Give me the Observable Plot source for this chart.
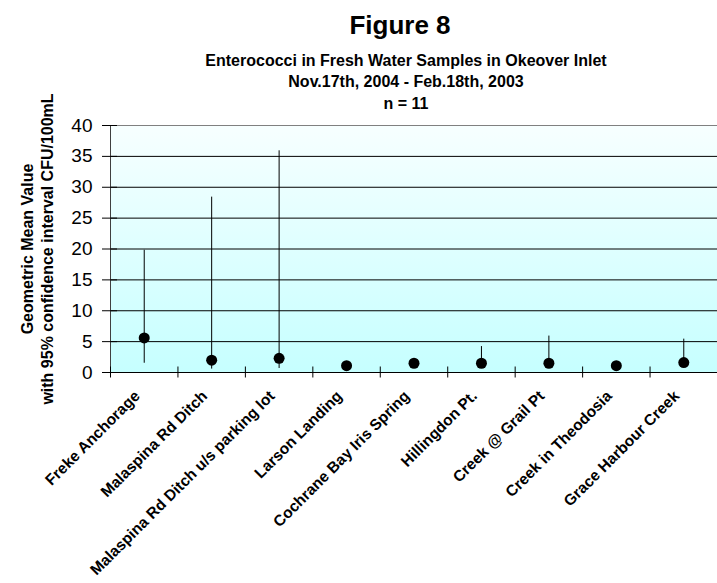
<!DOCTYPE html>
<html>
<head>
<meta charset="utf-8">
<script src="https://cdn.jsdelivr.net/npm/d3@7"></script>
<script src="https://cdn.jsdelivr.net/npm/@observablehq/plot@0.6"></script>
<style>
  body { margin: 0; background: #fff; font-family: Arial, "Liberation Sans", sans-serif; }
  #chart { position: relative; width: 717px; height: 583px; }
  #chart svg { position: absolute; left: 0; top: 0; }
  .t { position: absolute; left: 0; text-align: center; font-weight: bold;
       color: #000; white-space: nowrap; line-height: 1; }
  .h1 { font-size: 26px; top: 12px; width: 800px; }
  .h2 { font-size: 16px; width: 812px; }
</style>
</head>
<body>
<div id="chart">
  <div class="t h1">Figure 8</div>
  <div class="t h2" style="top:53px">Enterococci in Fresh Water Samples in Okeover Inlet</div>
  <div class="t h2" style="top:74px">Nov.17th, 2004 - Feb.18th, 2003</div>
  <div class="t h2" style="top:96px">n = 11</div>
</div>
<script>
// Sampling sites along the x axis
const sites = [
  "Freke Anchorage",
  "Malaspina Rd Ditch",
  "Malaspina Rd Ditch u/s parking lot",
  "Larson Landing",
  "Cochrane Bay Iris Spring",
  "Hillingdon Pt.",
  "Creek @ Grail Pt",
  "Creek in Theodosia",
  "Grace Harbour Creek"
];
// Geometric mean (CFU/100mL) and 95% confidence interval bounds
const geoMean = [5.6, 2.0, 2.3, 1.1, 1.5, 1.5, 1.5, 1.1, 1.6];
const ciLow   = [1.5, 0.55, 0.65, 0.7, 0.9, 0.9, 0.9, 0.7, 1.0];
const ciHigh  = [19.8, 28.4, 35.9, 1.6, 2.2, 4.2, 5.9, 1.6, 5.4];
// Value axis ticks
const yTicks = [0, 5, 10, 15, 20, 25, 30, 35, 40];

const rows = sites.map((site, i) => ({i, site, mean: geoMean[i], lo: ciLow[i], hi: ciHigh[i]}));
const boundaries = sites.map((_, i) => i - 0.5);
const siteIndex = sites.map((_, i) => i);

// Soft vertical gradient used to fill the plotting area
function gradientDefs() {
  const defs = d3.create("svg:defs");
  const g = defs.append("linearGradient")
    .attr("id", "plotBg").attr("x1", 0).attr("y1", 0).attr("x2", 0).attr("y2", 1);
  g.append("stop").attr("offset", "0%").attr("stop-color", "#f7ffff");
  g.append("stop").attr("offset", "100%").attr("stop-color", "#c6ffff");
  return defs.node();
}

const chart = Plot.plot({
  width: 717,
  height: 583,
  marginLeft: 110,
  marginRight: 0,
  marginTop: 125,
  marginBottom: 211,
  style: {fontFamily: "Arial, 'Liberation Sans', sans-serif", background: "transparent", color: "#000"},
  x: {type: "linear", domain: [-0.5, sites.length - 0.5]},
  y: {domain: [0, 40]},
  marks: [
    gradientDefs,
    Plot.frame({fill: "url(#plotBg)", stroke: null}),
    // horizontal gridlines
    Plot.ruleY(yTicks.filter(v => v > 0 && v < 40), {stroke: "#000", strokeWidth: 1}),
    Plot.ruleY([40], {stroke: "#808080"}),
    // axis lines
    Plot.ruleX([-0.5], {stroke: "#404040"}),
    Plot.ruleY([0], {stroke: "#000"}),
    // cross tick marks on both axes
    Plot.ruleY(yTicks, {y: d => d, x1: -0.5, x2: -0.5, insetLeft: -8, insetRight: -7, stroke: "#000"}),
    Plot.ruleX(boundaries, {x: d => d, y1: 0, y2: 0, insetTop: -5.5, insetBottom: -5.5, stroke: "#000"}),
    Plot.axisY({ticks: yTicks, tickSize: 0, tickPadding: 18, fontSize: 19, label: null}),
    Plot.axisX({
      ticks: siteIndex, tickFormat: i => sites[i], tickSize: 0, tickRotate: -45,
      tickPadding: 21, dx: -7, fontSize: 15.5, fontWeight: "bold", label: null
    }),
    // value axis title
    Plot.text(["Geometric Mean Value\nwith 95% confidence interval CFU/100mL"], {
      frameAnchor: "left", textAnchor: "middle", rotate: -90, dx: -74,
      fontSize: 16, fontWeight: "bold", lineHeight: 1.25
    }),
    // confidence intervals and geometric means
    Plot.ruleX(rows, {x: "i", y1: "lo", y2: "hi", stroke: "#000", strokeWidth: 1}),
    Plot.dot(rows, {x: "i", y: "mean", r: 5.5, fill: "#000", stroke: null})
  ]
});

document.getElementById("chart").appendChild(chart);
</script>
</body>
</html>
